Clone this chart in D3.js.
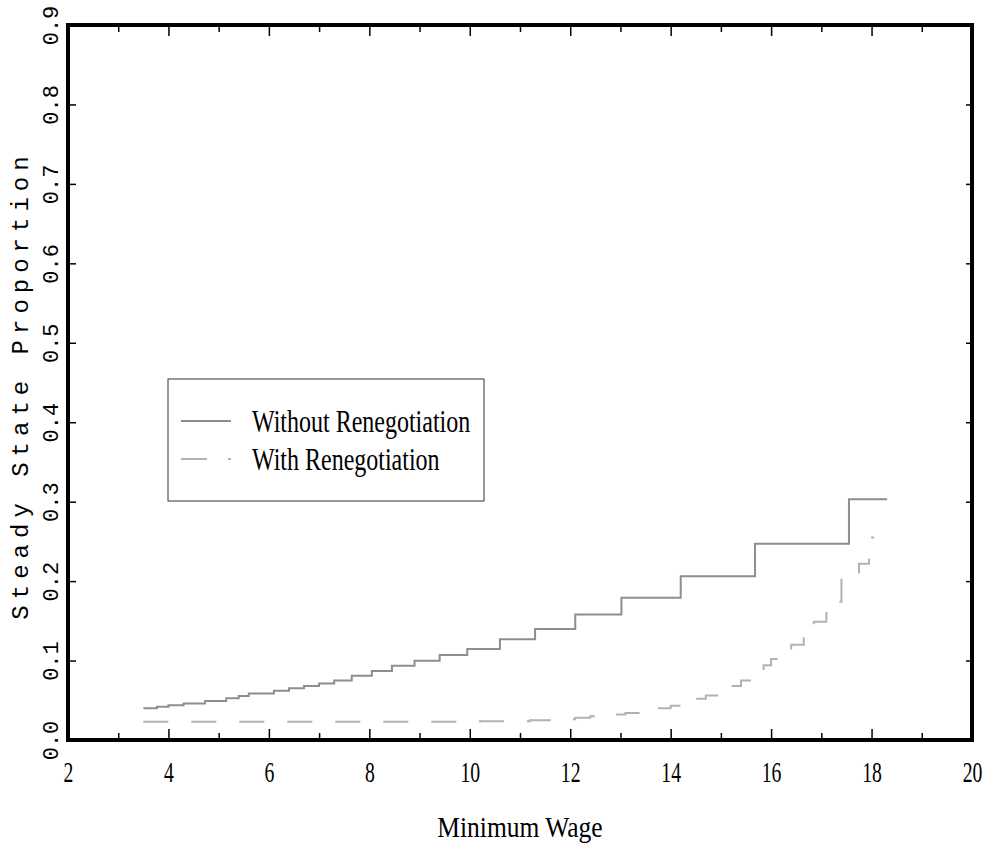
<!DOCTYPE html>
<html>
<head>
<meta charset="utf-8">
<script src="https://cdn.jsdelivr.net/npm/d3@7"></script>
<style>
  body { margin: 0; background: #fff; }
  svg { display: block; }
</style>
</head>
<body>
<div class="canvas"></div>
<script>
// Data (step starts: wage, proportion)

const withoutWage  = [3.5, 3.77, 4.0, 4.3, 4.73, 5.15, 5.4, 5.6, 6.1, 6.4, 6.7, 7.0, 7.3, 7.65, 8.05, 8.45, 8.9, 9.4, 9.95, 10.6, 11.3, 12.1, 13.02, 14.2, 15.68, 17.55, 18.31];
const withoutValue = [0.040, 0.042, 0.0437, 0.046, 0.049, 0.0525, 0.0555, 0.0585, 0.062, 0.065, 0.068, 0.071, 0.075, 0.081, 0.087, 0.0936, 0.0998, 0.107, 0.1145, 0.1267, 0.1397, 0.158, 0.179, 0.206, 0.247, 0.303, 0.303];

const withWage  = [3.5, 10.2, 11.2, 11.8, 12.1, 12.4, 12.8, 13.1, 13.4, 13.7, 14.0, 14.2, 14.45, 14.7, 14.95, 15.2, 15.4, 15.6, 15.85, 16.0, 16.2, 16.4, 16.65, 16.85, 17.1, 17.3, 17.4, 17.75, 17.95, 18.05];
const withValue = [0.023, 0.0235, 0.025, 0.026, 0.028, 0.030, 0.032, 0.034, 0.037, 0.040, 0.043, 0.047, 0.052, 0.056, 0.062, 0.068, 0.075, 0.083, 0.094, 0.102, 0.112, 0.120, 0.131, 0.149, 0.160, 0.174, 0.209, 0.222, 0.255, 0.255];

const seriesNames = ["Without Renegotiation", "With Renegotiation"];
const xTickValues = [2, 3, 4, 5, 6, 7, 8, 9, 10, 11, 12, 13, 14, 15, 16, 17, 18, 19, 20];
const xTickLabels = ["2", "4", "6", "8", "10", "12", "14", "16", "18", "20"];
const yTickValues = [0, 0.1, 0.2, 0.3, 0.4, 0.5, 0.6, 0.7, 0.8, 0.9];
const yTickLabels = ["0.0", "0.1", "0.2", "0.3", "0.4", "0.5", "0.6", "0.7", "0.8", "0.9"];

// Dimensions

const W = 987, H = 851;
const margin = { top: 25, right: 15, bottom: 111, left: 68 };
const width = W - margin.left - margin.right;
const height = H - margin.top - margin.bottom;

const x = d3.scaleLinear().domain([2, 20]).range([0, width]);
const y = d3.scaleLinear().domain([0, 0.9]).range([height, 0]);

const svg = d3.select(".canvas")
  .append("svg")
    .attr("width", W)
    .attr("height", H)
  .append("g")
    .attr("transform", `translate(${margin.left}, ${margin.top})`);

const serif = "'Liberation Serif', 'DejaVu Serif', serif";
const mono = "'Liberation Mono', 'DejaVu Sans Mono', monospace";

// x axis (bottom) - ticks point inward, odd ones shorter
const xb = svg.append("g")
  .attr("transform", `translate(0, ${height})`)
  .call(d3.axisBottom(x)
    .tickValues(xTickValues)
    .tickSizeInner(-11)
    .tickSizeOuter(0)
    .tickFormat(d => xTickLabels.includes(String(d)) ? String(d) : ""));
xb.select(".domain").remove();
xb.selectAll(".tick line")
  .attr("stroke", "#000")
  .attr("stroke-width", 1.5)
  .attr("y2", d => d % 2 === 0 ? -11 : -7);
xb.selectAll(".tick text")
  .attr("y", 42)
  .attr("dy", 0)
  .attr("transform", "scale(0.68,1)")
  .style("font-family", serif)
  .style("font-size", "29px")
  .attr("fill", "#000");

// x axis (top)
const xt = svg.append("g")
  .call(d3.axisTop(x)
    .tickValues(xTickValues)
    .tickSizeInner(-11)
    .tickSizeOuter(0)
    .tickFormat(""));
xt.select(".domain").remove();
xt.selectAll(".tick line")
  .attr("stroke", "#000")
  .attr("stroke-width", 1.5)
  .attr("y2", d => d % 2 === 0 ? 11 : 7);

// y axis (left)
const yl = svg.append("g")
  .call(d3.axisLeft(y)
    .tickValues(yTickValues)
    .tickSizeInner(-8)
    .tickSizeOuter(0)
    .tickFormat((d, i) => yTickLabels[i]));
yl.select(".domain").remove();
yl.selectAll(".tick line").attr("stroke", "#000").attr("stroke-width", 1.5);
yl.selectAll(".tick text")
  .attr("x", 0)
  .attr("dy", 0)
  .attr("text-anchor", "middle")
  .attr("transform", "translate(-10,0) rotate(-90)")
  .style("font-family", mono)
  .style("font-size", "22px")
  .attr("fill", "#000");

// y axis (right)
const yr = svg.append("g")
  .attr("transform", `translate(${width}, 0)`)
  .call(d3.axisRight(y)
    .tickValues(yTickValues)
    .tickSizeInner(-6)
    .tickSizeOuter(0)
    .tickFormat(""));
yr.select(".domain").remove();
yr.selectAll(".tick line").attr("stroke", "#000").attr("stroke-width", 1.5);

// frame
svg.append("rect")
  .attr("x", 0).attr("y", 0)
  .attr("width", width).attr("height", height)
  .attr("fill", "none")
  .attr("stroke", "#000")
  .attr("stroke-width", 4);

// axis titles
svg.append("text")
  .attr("transform", `translate(${width / 2}, ${height + 97}) scale(0.85,1)`)
  .attr("text-anchor", "middle")
  .style("font-family", serif)
  .style("font-size", "30px")
  .text("Minimum Wage");

svg.append("text")
  .attr("transform", `translate(${28 - margin.left}, ${385 - margin.top}) rotate(-90)`)
  .attr("text-anchor", "middle")
  .style("font-family", mono)
  .style("font-size", "24px")
  .style("letter-spacing", "6px")
  .text("Steady State Proportion");

// lines
const line = d3.line()
  .x(d => x(d[0]))
  .y(d => y(d[1]))
  .curve(d3.curveStepAfter);

const withoutData = withoutWage.map((w, i) => [w, withoutValue[i]]);
const withData = withWage.map((w, i) => [w, withValue[i]]);

svg.append("path")
  .datum(withoutData)
  .attr("fill", "none")
  .attr("stroke", "#8e8e8e")
  .attr("stroke-width", 2)
  .attr("d", line);

svg.append("path")
  .datum(withData)
  .attr("fill", "none")
  .attr("stroke", "#b2b2b2")
  .attr("stroke-width", 2)
  .attr("stroke-dasharray", "25,23")
  .attr("d", line);

// legend
const lg = svg.append("g").attr("transform", `translate(${168 - margin.left}, ${379 - margin.top})`);
lg.append("rect")
  .attr("width", 316).attr("height", 122)
  .attr("fill", "#fff")
  .attr("stroke", "#333")
  .attr("stroke-width", 1);

const legendStyles = [
  { stroke: "#8e8e8e", dash: null },
  { stroke: "#b2b2b2", dash: "26,21" }
];
seriesNames.forEach((name, i) => {
  const yy = 42 + i * 38;
  lg.append("line")
    .attr("x1", 13).attr("x2", 63)
    .attr("y1", yy).attr("y2", yy)
    .attr("stroke", legendStyles[i].stroke)
    .attr("stroke-width", 2)
    .attr("stroke-dasharray", legendStyles[i].dash);
  lg.append("text")
    .attr("transform", `translate(84, ${yy + 11}) scale(0.75,1)`)
    .style("font-family", serif)
    .style("font-size", "32px")
    .text(name);
});
</script>
</body>
</html>
